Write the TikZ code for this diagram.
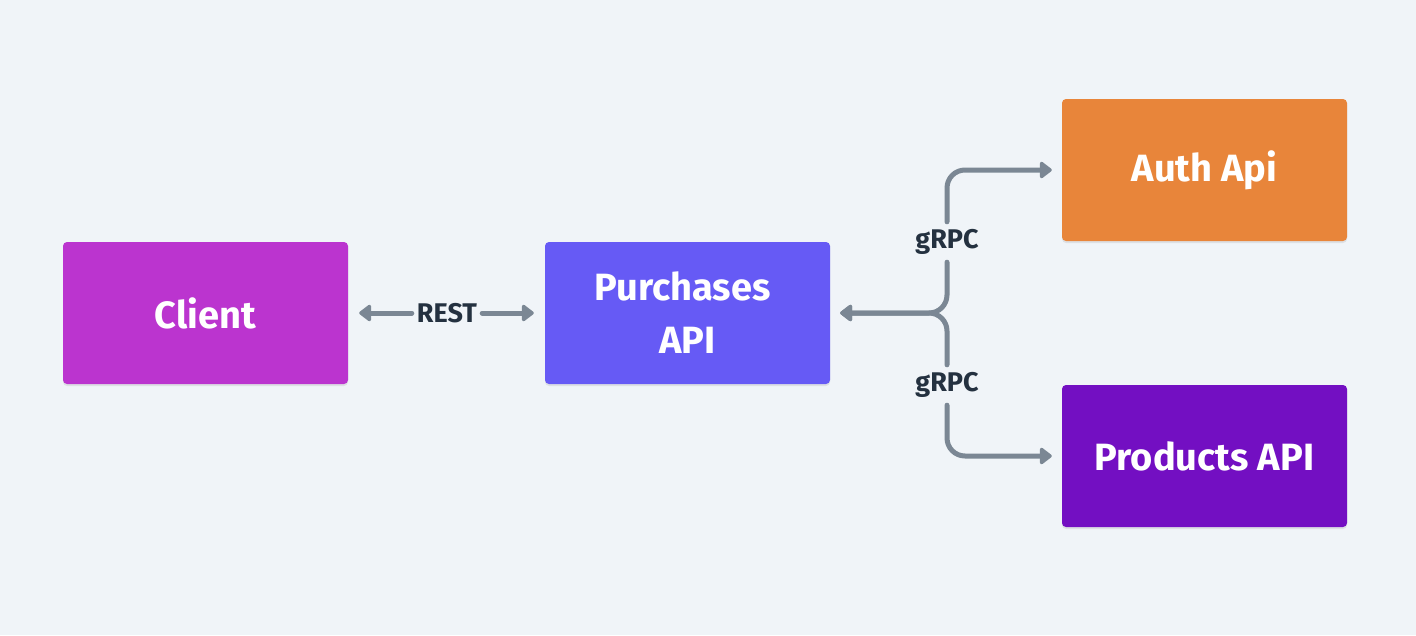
\documentclass[tikz,border=0pt]{standalone}
\usepackage{fontspec}
\setmainfont{Fira Sans}
\usetikzlibrary{arrows.meta,shadows}
\definecolor{bg}{HTML}{F0F4F8}
\definecolor{cclient}{HTML}{BB34CF}
\definecolor{cpurch}{HTML}{665AF5}
\definecolor{cauth}{HTML}{E8853A}
\definecolor{cprod}{HTML}{730FC2}
\definecolor{cline}{HTML}{7B8794}
\definecolor{clabel}{HTML}{243140}
\tikzset{
  box/.style={rectangle, rounded corners=4pt, minimum width=285pt, minimum height=142pt,
    inner sep=0pt, text=white, font=\fontsize{38}{53}\selectfont\bfseries, align=center,
    drop shadow={shadow xshift=0pt, shadow yshift=-2pt, opacity=0.08, fill=black}},
  lbl/.style={inner sep=0pt, minimum height=40pt, minimum width=60pt, text=clabel,
    font=\fontsize{27}{30}\selectfont\bfseries},
  arr/.style={draw=cline, line width=5pt, line cap=round,
    -{Triangle[length=13pt,width=19pt,round]}}
}
\begin{document}
\begin{tikzpicture}[x=1pt,y=-1pt]
\fill[bg] (0,0) rectangle (1416,635);
\useasboundingbox (0,0) rectangle (1416,635);
\node[box, fill=cclient] (client) at (205.5,313) {Client};
\node[box, fill=cpurch] (purch) at (687.5,313) {Purchases\hspace*{10pt}\\API};
\node[box, fill=cauth] (auth) at (1204.5,170) {Auth Api};
\node[box, fill=cprod] (prod) at (1204.5,456) {Products API};
\node[lbl, minimum width=70pt] (rest) at (447,313) {REST};
\node[lbl] (g1) at (947,242) {gRPC};
\node[lbl] (g2) at (947,385) {gRPC};
\draw[arr, shorten >=11pt] (rest.west) -- (client.east);
\draw[arr, shorten >=11pt] (rest.east) -- (purch.west);
\draw[arr, rounded corners=18pt, shorten >=10pt] (g1.north) |- (auth.west);
\draw[arr, rounded corners=18pt, shorten >=10pt] (g2.south) |- (prod.west);
\draw[arr, rounded corners=18pt, shorten >=10pt] (g1.south) |- (purch.east);
\draw[arr, rounded corners=18pt, shorten >=10pt] (g2.north) |- (purch.east);
\end{tikzpicture}
\end{document}
